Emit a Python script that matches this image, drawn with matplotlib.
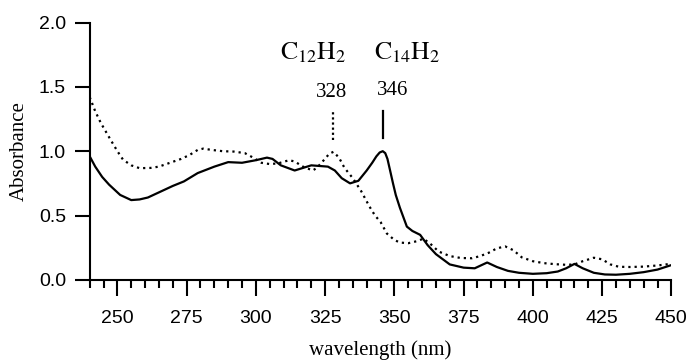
import matplotlib.pyplot as plt
from matplotlib.ticker import MultipleLocator

# C14H2 spectrum (solid line)
wl_c14 = [240, 242, 244.5, 247, 251, 255, 258, 261, 265, 270, 274, 279, 285, 290, 295,
          300, 304, 306, 309, 314, 317, 320, 323, 326, 328.5, 331, 334, 337, 340,
          342, 343.5, 344.7, 345.8, 346.7, 347.5, 348.4, 349.5, 350.5, 352, 354.5,
          356.5, 359.3, 362, 365, 370, 375, 379, 381, 383.5, 387, 391, 395, 400, 405,
          409, 412, 415, 418, 422, 426, 430, 435, 440, 445, 450]
abs_c14 = [0.96, 0.88, 0.8, 0.74, 0.66, 0.62, 0.625, 0.64, 0.68, 0.73, 0.765, 0.83,
           0.88, 0.915, 0.91, 0.93, 0.95, 0.94, 0.89, 0.85, 0.87, 0.89, 0.885, 0.88,
           0.85, 0.79, 0.75, 0.77, 0.85, 0.91, 0.96, 0.99, 1.0, 0.985, 0.94, 0.855,
           0.75, 0.66, 0.56, 0.414, 0.38, 0.35, 0.27, 0.2, 0.12, 0.095, 0.09, 0.11,
           0.135, 0.1, 0.07, 0.055, 0.047, 0.052, 0.065, 0.09, 0.124, 0.09, 0.055,
           0.042, 0.04, 0.047, 0.06, 0.08, 0.115]

# C12H2 spectrum (dotted line)
wl_c12 = [240, 242, 244, 247.5, 250, 252, 255, 258, 262, 265, 269, 273, 276, 279,
          281, 284, 288, 292, 296, 299, 302, 305, 308, 312, 314, 317, 320.5, 322,
          324.5, 326.5, 328, 330, 332, 335, 338, 341, 343, 345, 347.3, 350, 352,
          355, 358, 360.5, 363, 366, 370, 374, 378, 381, 384, 387, 390, 393, 396,
          400, 404, 408, 412, 415, 418, 422, 425, 428, 431, 435, 440, 445, 450]
abs_c12 = [1.42, 1.31, 1.22, 1.09, 1.0, 0.935, 0.89, 0.868, 0.87, 0.88, 0.91, 0.94,
           0.97, 1.01, 1.02, 1.01, 1.0, 0.997, 0.985, 0.95, 0.91, 0.9, 0.905, 0.93,
           0.92, 0.88, 0.85, 0.87, 0.93, 0.98, 0.995, 0.95, 0.87, 0.79, 0.69, 0.57,
           0.5, 0.45, 0.36, 0.31, 0.29, 0.285, 0.3, 0.32, 0.28, 0.22, 0.185, 0.17,
           0.168, 0.185, 0.21, 0.245, 0.26, 0.23, 0.175, 0.145, 0.13, 0.122, 0.117,
           0.12, 0.145, 0.172, 0.16, 0.12, 0.102, 0.1, 0.103, 0.112, 0.125]

peak_labels = ["328", "346"]
peak_wl = [328, 346]
species = [r"$\mathrm{C_{12}H_2}$", r"$\mathrm{C_{14}H_2}$"]

plt.rcParams["mathtext.fontset"] = "stix"
tick_font = ["Liberation Sans", "DejaVu Sans"]
serif_font = ["Liberation Serif", "DejaVu Serif"]

fig = plt.figure(figsize=(6.9, 3.63), dpi=100)
ax = fig.add_axes([0.13, 0.229, 0.843, 0.709])

ax.plot(wl_c14, abs_c14, color="black", lw=1.6, solid_joinstyle="round")
ax.plot(wl_c12, abs_c12, color="black", lw=1.6, linestyle=(0, (1, 1.8)))

# peak markers
ax.plot([peak_wl[0], peak_wl[0]], [1.09, 1.31], color="black", lw=1.6,
        linestyle=(0, (1, 1.3)))
ax.plot([peak_wl[1], peak_wl[1]], [1.10, 1.31], color="black", lw=1.6)
ax.text(327.4, 1.455, peak_labels[0], ha="center", va="center", fontsize=15,
        family=serif_font)
ax.text(349.3, 1.47, peak_labels[1], ha="center", va="center", fontsize=15,
        family=serif_font)
ax.text(320.6, 1.77, species[0], ha="center", va="center", fontsize=18.5)
ax.text(354.6, 1.77, species[1], ha="center", va="center", fontsize=18.5)

ax.set_xlim(240, 450)
ax.set_ylim(0, 2.0)
ax.xaxis.set_major_locator(MultipleLocator(25))
ax.xaxis.set_minor_locator(MultipleLocator(5))
ax.set_xticks([250, 275, 300, 325, 350, 375, 400, 425, 450])
ax.set_yticks([0, 0.5, 1.0, 1.5, 2.0])
ax.set_yticklabels(["0.0", "0.5", "1.0", "1.5", "2.0"])

for s in ["top", "right"]:
    ax.spines[s].set_visible(False)
for s in ["left", "bottom"]:
    ax.spines[s].set_linewidth(1.5)

ax.tick_params(axis="x", which="major", length=11.5, width=1.5, pad=10)
ax.tick_params(axis="x", which="minor", length=6, width=1.5)
ax.tick_params(axis="y", which="major", length=11, width=1.5, pad=6)
for lab in ax.get_xticklabels() + ax.get_yticklabels():
    lab.set_family(tick_font)
    lab.set_fontsize(14)

ax.set_xlabel("wavelength (nm)", family=serif_font, fontsize=15, labelpad=10)
ax.set_ylabel("Absorbance", family=serif_font, fontsize=15, labelpad=7)

fig.savefig("out.png", dpi=100)
